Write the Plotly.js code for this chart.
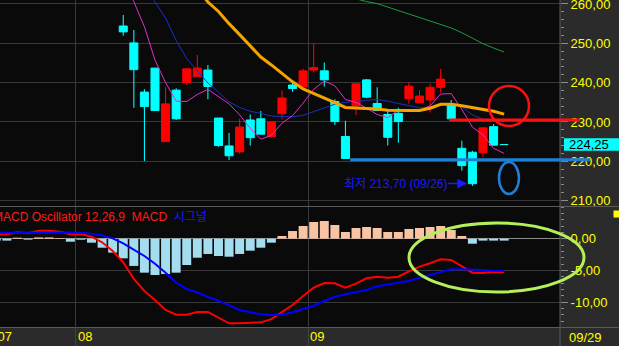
<!DOCTYPE html>
<html><head><meta charset="utf-8">
<script src="https://cdn.plot.ly/plotly-3.0.1.min.js"></script>
<style>html,body{margin:0;padding:0;background:#2b2b2b;}#chart{width:619px;height:346px;}</style>
</head><body><div id="chart"></div>
<script>
// ---------- data ----------
const dayIdx = [0,1,2,3,4,5,6,7,8,9,10,11,12,13,14,15,16,17,18,19,20,21,22,23,24,25,26,27,28,29,30,31,32,33,34,35,36];
const open  = [254.4,250.1,237.6,243.7,225.0,238.1,240.0,241.5,243.2,231.0,223.9,222.4,230.5,230.8,226.3,232.1,239.4,238.9,243.2,243.0,235.2,226.3,234.1,240.7,234.7,231.9,232.2,235.9,234.9,235.6,238.8,234.3,223.3,222.3,222.2,228.8,224.25];
const high  = [257.2,253.4,238.3,243.7,238.8,238.6,243.5,247.0,244.5,231.0,227.2,230.8,231.9,232.8,230.0,238.0,240.7,243.5,250.0,245.1,235.8,230.3,239.8,240.9,238.8,233.0,233.6,240.1,238.1,239.7,243.5,235.6,225.2,222.7,228.6,229.5,224.25];
const low   = [251.9,233.6,220.1,232.9,225.0,230.5,239.4,241.5,235.8,223.7,220.3,221.9,224.0,226.9,226.0,230.7,237.7,238.9,242.5,239.0,229.2,220.7,231.8,236.0,232.9,224.0,224.7,234.6,234.9,232.4,237.4,230.6,217.6,213.7,221.0,224.0,224.25];
const close = [252.9,243.3,233.9,232.9,234.6,230.8,243.5,243.7,239.0,224.0,221.4,228.7,226.0,226.9,230.0,236.1,238.5,243.0,243.8,240.7,230.1,220.7,239.7,236.3,232.9,226.1,230.1,239.1,236.6,238.8,240.9,230.8,218.9,214.3,228.5,224.1,224.25];

const ma5  = [266.5,260.6,254.2,245.7,240.0,235.3,235.2,237.0,238.3,236.4,234.6,231.8,228.4,225.6,226.6,229.7,231.6,234.8,238.3,240.4,239.2,235.7,235.0,233.5,231.9,231.1,233.0,232.9,233.0,234.1,237.1,237.2,233.2,228.7,226.7,223.3,222.0];
const ma10 = [null,null,265.6,260.5,256.4,250.7,246.1,243.0,239.9,237.6,235.1,233.7,232.7,232.2,231.5,231.4,231.3,231.7,232.6,233.6,234.5,235.0,235.3,235.5,235.7,235.3,234.7,234.1,233.6,233.7,234.3,234.8,233.9,231.8,230.7,230.3,230.0];
const ma20 = [null,null,null,null,null,null,null,263.9,260.5,258.1,255.0,252.2,249.4,246.5,244.5,242.4,240.2,238.4,237.3,236.1,234.9,233.7,233.6,233.5,233.3,233.0,232.9,232.9,232.9,233.5,234.5,234.5,234.1,233.6,233.2,232.7,232.0];
const ma60 = [null,null,null,null,null,null,null,null,null,null,null,null,null,null,null,null,null,null,null,null,null,262.0,261.2,260.6,260.1,259.2,258.2,257.3,256.4,255.5,254.7,253.9,252.7,251.3,249.9,248.8,247.8];

const macdIdx = [-12,-11,-10,-9,-8,-7,-6,-5,-4,-3,-2,-1,0,1,2,3,4,5,6,7,8,9,10,11,12,13,14,15,16,17,18,19,20,21,22,23,24,25,26,27,28,29,30,31,32,33,34,35,36];
const macdHist = [-0.30,-0.30,0.15,-0.15,0.20,0.20,0.10,-0.47,-0.16,-0.63,-1.42,-2.20,-3.10,-4.30,-5.36,-5.73,-5.57,-5.36,-4.15,-3.00,-2.41,-2.73,-2.84,-2.41,-1.89,-1.42,-0.63,0.43,1.21,2.00,2.63,2.79,2.16,1.06,1.69,1.85,1.69,1.06,1.06,1.53,1.69,1.85,2.00,1.37,0.43,-0.79,-0.30,-0.30,-0.30];
const macdLine = [0.72,0.72,1.00,0.85,1.25,1.26,1.10,0.72,0.74,0.32,-0.57,-1.94,-3.73,-6.36,-8.25,-9.67,-11.25,-12.00,-12.00,-11.55,-11.56,-12.46,-13.35,-13.35,-13.30,-13.20,-12.70,-11.60,-10.46,-9.04,-7.73,-6.99,-7.04,-7.73,-7.10,-6.25,-5.99,-6.15,-5.99,-5.15,-4.41,-3.88,-3.25,-3.36,-4.30,-5.36,-5.41,-5.20,-5.25];
const signalLine = [0.95,0.95,0.95,0.97,1.00,1.04,1.04,0.98,0.92,0.80,0.53,0.05,-0.73,-1.68,-2.73,-3.94,-5.36,-6.94,-7.93,-8.48,-9.20,-9.78,-10.46,-11.25,-11.60,-11.93,-12.03,-11.98,-11.60,-11.09,-10.57,-9.83,-9.15,-8.77,-8.46,-8.09,-7.51,-7.25,-6.99,-6.67,-6.15,-5.73,-5.30,-4.83,-4.83,-4.94,-4.94,-5.04,-5.09];

const priceTicks = [210,220,230,240,250,260];
const macdTicks = [0,-5,-10];
const monthBounds = [-4.5, 17.5];
const monthLabels = ['08','09'];
const firstMonthLabel = '/07';
const lastDateLabel = '09/29';
const macdTitle = 'MACD Oscillator 12,26,9';
const lowIdx = 33, lowVal = 213.70, lowDate = '09/26';
const resistLevel = 230.5, resistStart = 30.8;
const supportLevel = 220.4, supportStart = 21.45;
const lastPrice = close[close.length-1];

// ---------- geometry helpers ----------
const W = 619, H = 346, MR = 59, MB = 19;
const PW = W - MR, PH = H - MB;
const XR = [-11.65, 41.28];
const PR = [208.63, 261.01];
const MR2 = [-13.93, 5.0];
const TOPDOM = [1 - 206/PH, 1];
const BOTDOM = [0, 120/PH];
const px = v => (v - XR[0]) / (XR[1] - XR[0]);
const pyP = p => TOPDOM[0] + (p - PR[0]) / (PR[1] - PR[0]) * (TOPDOM[1] - TOPDOM[0]);
const pxPix = x => x / PW;
const pyPix = y => (PH - y) / PH;
const fmt = v => v.toFixed(2).replace('.', ',');

const UP = '#ff0000', DOWN = '#00ffff';
const FONT = 'Liberation Sans, Arial, Noto Sans CJK KR, sans-serif';
const candleColor = dayIdx.map((d, k) => close[k] > open[k] ? UP : DOWN);
const bodyBase = dayIdx.map((d, k) => Math.min(open[k], close[k]));
const bodyLen = dayIdx.map((d, k) => Math.abs(close[k] - open[k]));
const wickLen = dayIdx.map((d, k) => high[k] - low[k]);
const histColor = macdHist.map(v => v >= 0 ? '#f8c4a4' : '#a4dcf0');

const traces = [
  {type:'bar', x:dayIdx, y:wickLen, base:low, width:0.1, marker:{color:candleColor, line:{width:0}}, xaxis:'x', yaxis:'y', hoverinfo:'skip'},
  {type:'bar', x:dayIdx, y:bodyLen, base:bodyBase, width:0.76, marker:{color:candleColor, line:{color:candleColor, width:1}}, xaxis:'x', yaxis:'y', hoverinfo:'skip'},
  {type:'scatter', mode:'lines', x:dayIdx, y:ma60, line:{color:'#1f9a3c', width:1}, xaxis:'x', yaxis:'y', hoverinfo:'skip'},
  {type:'scatter', mode:'lines', x:dayIdx, y:ma10, line:{color:'#1c2fc4', width:1}, xaxis:'x', yaxis:'y', hoverinfo:'skip'},
  {type:'scatter', mode:'lines', x:dayIdx, y:ma5, line:{color:'#e030cc', width:1}, xaxis:'x', yaxis:'y', hoverinfo:'skip'},
  {type:'scatter', mode:'lines', x:dayIdx, y:ma20, line:{color:'#f5a300', width:3}, xaxis:'x', yaxis:'y', hoverinfo:'skip'},
  {type:'bar', x:macdIdx, y:macdHist, width:0.85, marker:{color:histColor, line:{width:0}}, xaxis:'x2', yaxis:'y2', hoverinfo:'skip'},
  {type:'scatter', mode:'lines', x:macdIdx, y:macdLine, line:{color:'#ff0000', width:2}, xaxis:'x2', yaxis:'y2', hoverinfo:'skip'},
  {type:'scatter', mode:'lines', x:macdIdx, y:signalLine, line:{color:'#0000ff', width:2}, xaxis:'x2', yaxis:'y2', hoverinfo:'skip'}
];

const GRID = '#383838', SEP = '#5a5a5a', TICK = '#8a8a8a';
const yTickFont = {color:'#ffff00', size:13, family:FONT};

const shapes = [];
// separators
shapes.push({type:'line', xref:'paper', yref:'paper', x0:0, x1:W/PW, y0:pyPix(206.5), y1:pyPix(206.5), line:{color:SEP, width:1}});
shapes.push({type:'line', xref:'paper', yref:'paper', x0:0, x1:W/PW, y0:pyPix(327.5), y1:pyPix(327.5), line:{color:SEP, width:1}});
shapes.push({type:'line', xref:'paper', yref:'paper', x0:1, x1:1, y0:pyPix(H), y1:1, line:{color:SEP, width:1}});
// month grid continuation in date band
monthBounds.forEach(m => shapes.push({type:'line', xref:'paper', yref:'paper', x0:px(m), x1:px(m), y0:pyPix(H), y1:0, line:{color:'#444', width:1}}));
// resistance / support lines
shapes.push({type:'line', xref:'paper', yref:'paper', x0:px(resistStart), x1:pxPix(580), y0:pyP(resistLevel), y1:pyP(resistLevel), line:{color:'#ff1010', width:3}, layer:'above'});
shapes.push({type:'line', xref:'paper', yref:'paper', x0:px(supportStart), x1:pxPix(590), y0:pyP(supportLevel), y1:pyP(supportLevel), line:{color:'#1f7fd4', width:3}, layer:'above'});
// red circle and blue ellipse
shapes.push({type:'circle', xref:'x', yref:'y', x0:34.57, x1:38.35, y0:228.98, y1:239.14, line:{color:'#ff1010', width:2.5}});
shapes.push({type:'circle', xref:'x', yref:'y', x0:35.51, x1:37.40, y0:211.7, y1:219.8, line:{color:'#1f7fd4', width:2.5}});
// green ellipse on MACD
shapes.push({type:'circle', xref:'paper', yref:'paper', x0:pxPix(409), x1:pxPix(584), y0:pyPix(292), y1:pyPix(223), line:{color:'#b4f05a', width:3}, layer:'above'});
// current price box
shapes.push({type:'rect', xref:'paper', yref:'paper', x0:pxPix(564), x1:W/PW, y0:pyP(lastPrice) - 6.3/PH, y1:pyP(lastPrice) + 6.3/PH, fillcolor:'#00ffff', line:{width:0}, layer:'above'});
// small yellow icon
shapes.push({type:'rect', xref:'paper', yref:'paper', x0:pxPix(613.5), x1:W/PW, y0:pyPix(217.5), y1:pyPix(210.5), fillcolor:'#ffff00', line:{width:0}, layer:'above'});

const annotations = [
  {xref:'paper', yref:'paper', x:pxPix(-9.5), y:pyPix(216.7), xanchor:'left', yanchor:'middle', showarrow:false,
   text:'<span style="color:#ff1a1a">' + macdTitle + '\u00a0\u00a0MACD</span>\u00a0\u00a0<span style="color:#1a1aff">시그널</span>',
   font:{size:12, family:FONT}},
  {xref:'x', yref:'y', x:lowIdx - 0.5, y:lowVal, yshift:2.5, ax:-72, ay:0, showarrow:true, arrowhead:2, arrowsize:1.3, arrowwidth:1.5, arrowcolor:'#1a1aff', standoff:0,
   text:'최저 ' + fmt(lowVal) + ' (' + lowDate + ')', font:{size:12, color:'#1a1aff', family:FONT}},
  {xref:'paper', yref:'paper', x:pxPix(567), y:pyP(lastPrice), xanchor:'left', yanchor:'middle', showarrow:false, text:fmt(lastPrice), font:{size:13, color:'#000000', family:FONT}},
  {xref:'paper', yref:'paper', x:pxPix(14), y:pyPix(336.5), xanchor:'right', yanchor:'middle', showarrow:false, text:firstMonthLabel, font:{size:13, color:'#ffff00', family:FONT}},
  {xref:'paper', yref:'paper', x:pxPix(567), y:pyPix(337), xanchor:'left', yanchor:'middle', showarrow:false, text:lastDateLabel, font:{size:13, color:'#ffff00', family:FONT}}
];
monthBounds.forEach((m, k) => annotations.push({xref:'paper', yref:'paper', x:px(m), y:pyPix(336.5), xanchor:'left', yanchor:'middle', showarrow:false, text:monthLabels[k], font:{size:13, color:'#ffff00', family:FONT}}));

const xCommon = {range:XR, showticklabels:false, showgrid:true, tickmode:'array', tickvals:monthBounds, gridcolor:'#3a3a3a', gridwidth:1, zeroline:false, ticks:'', showline:false, fixedrange:true};

const layout = {
  width:W, height:H,
  margin:{l:0, r:MR, t:0, b:MB, pad:0},
  paper_bgcolor:'#2b2b2b', plot_bgcolor:'#0a0a0a',
  showlegend:false, barmode:'overlay', hovermode:false,
  font:{family:FONT},
  xaxis:Object.assign({}, xCommon, {anchor:'y', domain:[0,1]}),
  xaxis2:Object.assign({}, xCommon, {anchor:'y2', domain:[0,1]}),
  yaxis:{domain:TOPDOM, range:PR, anchor:'x', side:'right', tickmode:'array', tickvals:priceTicks, ticktext:priceTicks.map(fmt),
    tickfont:yTickFont, ticklabeloverflow:'allow', gridcolor:GRID, gridwidth:1, zeroline:false, ticks:'outside', ticklen:7, tickcolor:TICK, tickwidth:1,
    showline:false, fixedrange:true,
    minor:{tickmode:'linear', tick0:0, dtick:2, ticks:'outside', ticklen:3, tickcolor:TICK, tickwidth:1, showgrid:false}},
  yaxis2:{domain:BOTDOM, range:MR2, anchor:'x2', side:'right', tickmode:'array', tickvals:macdTicks, ticktext:macdTicks.map(fmt),
    tickfont:yTickFont, ticklabeloverflow:'allow', gridcolor:GRID, gridwidth:1, zeroline:true, zerolinecolor:'#8c8c8c', zerolinewidth:1, ticks:'outside', ticklen:7, tickcolor:TICK, tickwidth:1,
    showline:false, fixedrange:true,
    minor:{tickmode:'linear', tick0:0, dtick:1, ticks:'outside', ticklen:3, tickcolor:TICK, tickwidth:1, showgrid:false}},
  shapes:shapes,
  annotations:annotations
};

Plotly.newPlot('chart', traces, layout, {staticPlot:true, displayModeBar:false});
</script>
</body></html>
